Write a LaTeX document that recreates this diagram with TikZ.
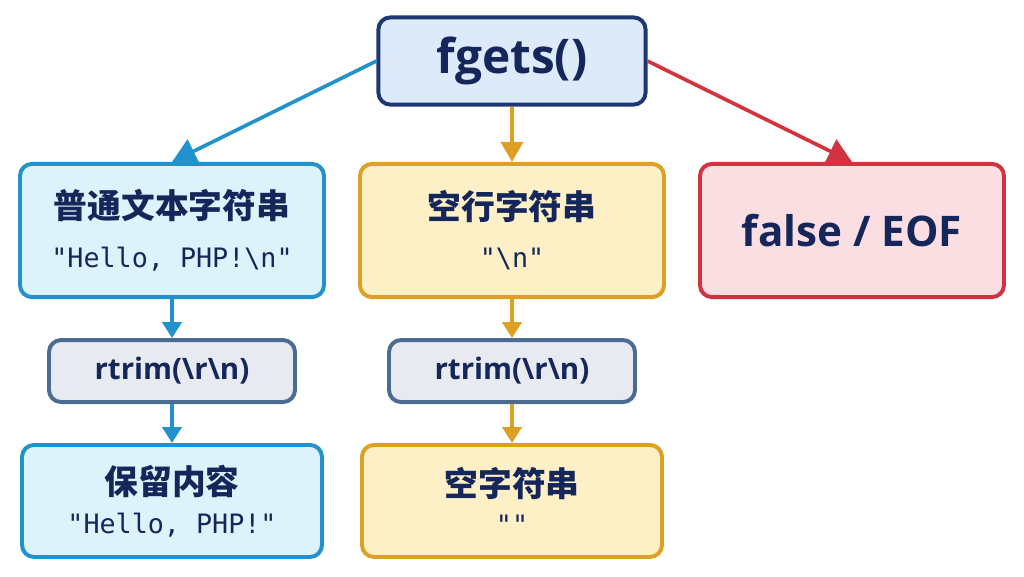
\documentclass[tikz,border=0pt]{standalone}
\usepackage{fontspec}
\setmainfont{Open Sans}
\newfontfamily\cjk{Noto Sans CJK SC}
\newfontfamily\codefont{DejaVu Sans Mono}
\usetikzlibrary{positioning, arrows.meta}

\definecolor{ink}{HTML}{15275A}
\definecolor{navy}{HTML}{1E3772}
\definecolor{skyline}{HTML}{2192CB}
\definecolor{skyfill}{HTML}{DDF3FB}
\definecolor{goldline}{HTML}{DDA024}
\definecolor{goldfill}{HTML}{FDEFC6}
\definecolor{redline}{HTML}{D13440}
\definecolor{redfill}{HTML}{FBDEE1}
\definecolor{greyline}{HTML}{4C6B92}
\definecolor{greyfill}{HTML}{E7EBF1}
\definecolor{rootfill}{HTML}{DCEAFA}

\begin{document}
\begin{tikzpicture}[
    text=ink,
    box/.style={
        rectangle, rounded corners=3mm, line width=2.8pt,
        align=center, inner sep=0pt
    },
    root/.style={
        box, draw=navy, fill=rootfill,
        minimum width=6.68cm, minimum height=2.18cm,
        font=\fontsize{34}{40}\selectfont\bfseries
    },
    plainstr/.style={
        box, draw=skyline, fill=skyfill,
        minimum width=7.6cm, minimum height=3.33cm
    },
    blankstr/.style={
        box, draw=goldline, fill=goldfill,
        minimum width=7.6cm, minimum height=3.33cm
    },
    endstr/.style={
        box, draw=redline, fill=redfill,
        minimum width=7.6cm, minimum height=3.33cm,
        font=\fontsize{30}{36}\selectfont\bfseries
    },
    trim/.style={
        box, draw=greyline, fill=greyfill,
        minimum width=6.15cm, minimum height=1.55cm,
        font=\fontsize{21}{25}\selectfont\bfseries
    },
    result/.style={
        box, minimum width=7.5cm, minimum height=2.8cm
    },
    flow/.style={-{Triangle[length=6mm, width=6.5mm]}, line width=2.6pt},
    mid/.style={-{Triangle[length=5mm, width=5.5mm]}, line width=2.6pt},
    short/.style={-{Triangle[length=4mm, width=4.8mm]}, line width=2.6pt}
]
\useasboundingbox (0,0) rectangle (25.6,-14.4);

% ============ TOP ============
\node[root] (fgets) at (12.8,-1.525) {fgets()};

% ============ THREE OUTCOMES ============
\node[plainstr] (str) at (4.3,-5.7625)
    {{\cjk\bfseries\fontsize{24}{28}\selectfont 普通文本字符串}\\[17pt]
     \codefont\fontsize{19}{24}\selectfont "Hello, PHP!\textbackslash n"};
\node[blankstr] (nl) at (12.8,-5.7625)
    {{\cjk\bfseries\fontsize{24}{28}\selectfont 空行字符串}\\[17pt]
     \codefont\fontsize{19}{24}\selectfont "\textbackslash n"};
\node[endstr] (eof) at (21.3,-5.7625) {false / EOF};

% ============ TRIM STEP ============
\node[trim, below=0.975cm of str] (trimstr) {rtrim(\textbackslash r\textbackslash n)};
\node[trim, below=0.975cm of nl] (trimnl) {rtrim(\textbackslash r\textbackslash n)};

% ============ RESULTS ============
\node[result, plainstr, minimum width=7.5cm, minimum height=2.8cm,
      below=0.975cm of trimstr] (keep)
    {{\cjk\bfseries\fontsize{24}{28}\selectfont 保留内容}\\[10pt]
     \codefont\fontsize{19}{24}\selectfont "Hello, PHP!"};
\node[result, blankstr, minimum width=7.5cm, minimum height=2.8cm,
      below=0.975cm of trimnl] (empty)
    {{\cjk\bfseries\fontsize{24}{28}\selectfont 空字符串}\\[10pt]
     \codefont\fontsize{19}{24}\selectfont ""};

% ============ ARROWS ============
\draw[flow, skyline] (fgets.west) -- (str.north);
\draw[mid, goldline] (fgets.south) -- (nl.north);
\draw[flow, redline] (fgets.east) -- (eof.north);

\draw[short, skyline] (str) -- (trimstr);
\draw[short, skyline] (trimstr) -- (keep);
\draw[short, goldline] (nl) -- (trimnl);
\draw[short, goldline] (trimnl) -- (empty);

\end{tikzpicture}
\end{document}
